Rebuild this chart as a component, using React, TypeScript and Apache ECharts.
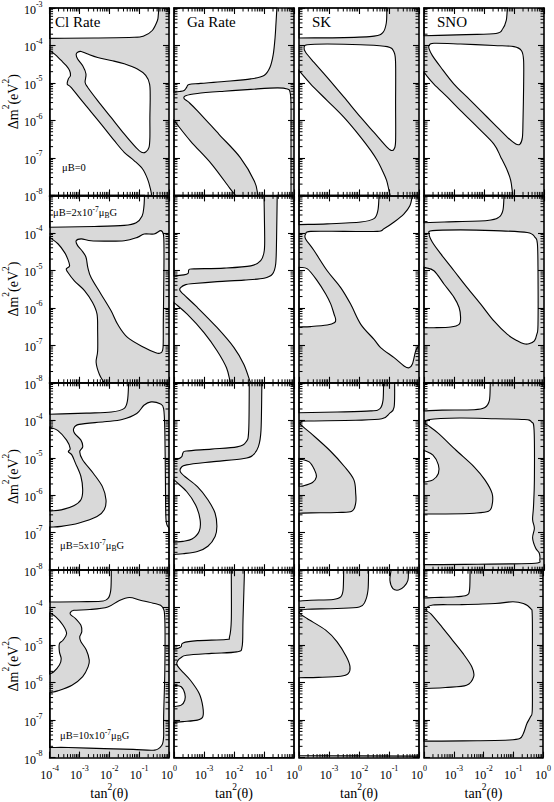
import React, { useEffect, useRef } from 'react';
import * as echarts from 'echarts';

type Pt = [number, number];

// ---------- text / axis data ----------
const detectorNames = ['Cl Rate', 'Ga Rate', 'SK', 'SNO'];
const muLabels = [
  '{n|μB=0}',
  '{n|μB=2x10}{s|-7}{n|μ}{u|B}{n|G}',
  '{n|μB=5x10}{s|-7}{n|μ}{u|B}{n|G}',
  '{n|μB=10x10}{s|-7}{n|μ}{u|B}{n|G}',
];
const xDecades = [-4, -3, -2, -1, 0]; // log10 tan^2(theta)
const yDecades = [-8, -7, -6, -5, -4, -3]; // log10 dm^2
const minorMultipliers = [2, 3, 4, 5, 6, 7, 8, 9];

// ---------- white (excluded) regions, [log10 tan^2, log10 dm^2] ----------
// row 0 : muB = 0
const cl0: Pt[][] = [
  [[-4, -3], [-0.34, -3], [-0.36, -3.2], [-0.39, -3.34], [-0.56, -3.6], [-0.83, -3.74], [-1.17, -3.78], [-2.5, -3.8], [-4, -3.81]],
  [[-4, -4.14], [-3.83, -4.23], [-3.61, -4.4], [-3.44, -4.54], [-3.33, -4.67], [-3.3, -4.8], [-3.37, -4.89], [-3.41, -5.03], [-3.28, -5.12], [-2.83, -5.56], [-2.28, -6.09], [-1.83, -6.54], [-1.5, -6.85], [-1.17, -7.07], [-0.89, -7.29], [-0.72, -7.56], [-0.62, -7.83], [-0.58, -8], [-4, -8]],
  [[-3.06, -4.18], [-2.94, -4.16], [-2.72, -4.23], [-2.39, -4.32], [-1.94, -4.4], [-1.5, -4.49], [-1.06, -4.63], [-0.78, -4.8], [-0.65, -5.03], [-0.63, -5.38], [-0.64, -5.92], [-0.64, -6.45], [-0.67, -6.72], [-0.78, -6.84], [-0.92, -6.85], [-1.11, -6.72], [-1.5, -6.36], [-1.94, -5.92], [-2.39, -5.47], [-2.72, -5.12], [-2.81, -4.98], [-2.78, -4.76], [-2.89, -4.54], [-3.06, -4.36], [-3.11, -4.24]],
];
const ga0: Pt[][] = [
  [[-4, -3], [-0.57, -3], [-0.6, -3.4], [-0.63, -3.78], [-0.69, -4.23], [-0.8, -4.58], [-1.0, -4.8], [-1.44, -4.89], [-2.33, -4.96], [-3.11, -5.01], [-3.5, -5.04], [-3.58, -5.12], [-3.66, -5.2], [-3.83, -5.23], [-4, -5.25]],
  [[-3.61, -5.34], [-3.22, -5.28], [-2.33, -5.22], [-1.44, -5.17], [-0.56, -5.13], [-0.22, -5.16], [-0.13, -5.25], [-0.1, -5.56], [-0.1, -6.5], [-0.1, -8], [-1.2, -8], [-1.32, -7.62], [-1.79, -6.99], [-2.5, -6.37], [-3.21, -5.75], [-3.5, -5.52], [-3.66, -5.42]],
  [[-4, -6.0], [-3.45, -6.55], [-2.74, -7.17], [-2.15, -7.8], [-1.95, -8], [-4, -8]],
];
const sk0: Pt[][] = [
  [[-4, -3], [-1.07, -3], [-1.09, -3.4], [-1.2, -3.65], [-1.5, -3.75], [-2.5, -3.79], [-4, -3.8]],
  [[-3.83, -4.05], [-3.72, -3.98], [-3.06, -3.96], [-1.94, -3.98], [-1.06, -4.03], [-0.83, -4.18], [-0.78, -4.49], [-0.78, -5.56], [-0.78, -6.54], [-0.83, -6.76], [-0.92, -6.8], [-1.06, -6.72], [-1.5, -6.32], [-1.94, -5.92], [-2.5, -5.38], [-3.06, -4.85], [-3.5, -4.45], [-3.78, -4.18]],
  [[-4, -4.67], [-3.61, -5.03], [-3.06, -5.47], [-2.5, -5.92], [-1.94, -6.45], [-1.61, -6.8], [-1.39, -7.07], [-1.22, -7.34], [-1.08, -7.6], [-1.0, -7.87], [-0.96, -8], [-4, -8]],
];
const sno0: Pt[][] = [
  [[-4, -3], [-1.22, -3], [-1.26, -3.34], [-1.38, -3.56], [-1.6, -3.68], [-2.6, -3.71], [-4, -3.74]],
  [[-3.83, -4.0], [-3.67, -3.94], [-2.78, -3.96], [-1.67, -4.0], [-1.0, -4.03], [-0.75, -4.14], [-0.68, -4.4], [-0.68, -5.12], [-0.7, -6.0], [-0.72, -6.45], [-0.8, -6.63], [-0.94, -6.63], [-1.22, -6.45], [-1.67, -6.09], [-2.11, -5.74], [-2.56, -5.38], [-3.0, -5.03], [-3.44, -4.58], [-3.72, -4.27], [-3.83, -4.09]],
  [[-4, -4.72], [-3.67, -5.03], [-3.22, -5.38], [-2.78, -5.74], [-2.22, -6.18], [-1.67, -6.63], [-1.44, -6.98], [-1.22, -7.34], [-1.11, -7.6], [-1.06, -7.87], [-1.04, -8], [-4, -8]],
];
// row 1 : muB = 2e-7
const cl2: Pt[][] = [
  [[-4, -3], [-0.82, -3], [-0.84, -3.3], [-0.9, -3.55], [-1.1, -3.73], [-1.5, -3.8], [-2.5, -3.83], [-4, -3.85]],
  [[-4, -4.12], [-3.72, -4.29], [-3.5, -4.52], [-3.39, -4.7], [-3.33, -4.88], [-3.44, -4.96], [-3.39, -5.05], [-3.17, -5.28], [-2.83, -5.54], [-2.56, -5.86], [-2.41, -6.17], [-2.39, -6.62], [-2.39, -7.15], [-2.44, -7.46], [-2.33, -7.78], [-2.17, -8], [-4, -8]],
  [[-3.11, -4.21], [-2.94, -4.16], [-2.61, -4.21], [-2.17, -4.22], [-1.5, -4.21], [-1.06, -4.12], [-0.83, -4.03], [-0.5, -4.03], [-0.28, -3.94], [-0.19, -4.03], [-0.17, -4.29], [-0.17, -5.01], [-0.19, -6.35], [-0.2, -7.06], [-0.28, -7.2], [-0.44, -7.2], [-0.83, -7.06], [-1.39, -6.79], [-1.72, -6.44], [-1.94, -6.08], [-2.28, -5.63], [-2.61, -5.19], [-2.72, -4.92], [-2.78, -4.65], [-2.92, -4.47], [-3.06, -4.34]],
];
const ga2: Pt[][] = [
  [[-4, -3], [-1.0, -3], [-0.98, -3.94], [-0.99, -4.47], [-1.11, -4.74], [-1.44, -4.88], [-2.33, -4.94], [-3.33, -4.96], [-3.5, -4.98], [-3.53, -5.08], [-3.67, -5.12], [-4, -5.15]],
  [[-0.56, -3], [-0.58, -4.12], [-0.61, -4.83], [-0.72, -5.1], [-1.0, -5.21], [-1.67, -5.26], [-2.56, -5.3], [-3.33, -5.35], [-3.61, -5.38], [-3.78, -5.46], [-3.8, -5.54], [-3.67, -5.65], [-3.22, -5.99], [-2.56, -6.53], [-2.0, -7.06], [-1.67, -7.51], [-1.45, -8], [0, -8], [0, -3]],
  [[-4, -5.86], [-3.56, -6.17], [-3.0, -6.66], [-2.56, -7.15], [-2.25, -7.6], [-2.12, -8], [-4, -8]],
];
const sk2: Pt[][] = [
  [[-4, -3], [-1.33, -3], [-1.37, -3.4], [-1.5, -3.62], [-1.94, -3.71], [-3.06, -3.76], [-4, -3.78]],
  [[-3.78, -4.03], [-3.61, -3.96], [-2.5, -3.96], [-1.39, -3.96], [-1.17, -3.89], [-0.83, -3.71], [-0.5, -3.49], [-0.3, -3.27], [-0.22, -3], [0, -3], [0, -7.0], [-0.11, -7.15], [-0.22, -7.5], [-0.33, -7.6], [-0.5, -7.55], [-0.83, -7.33], [-1.28, -7.06], [-1.5, -6.84], [-1.94, -6.44], [-2.28, -5.9], [-2.61, -5.46], [-3.06, -5.01], [-3.5, -4.47], [-3.78, -4.16]],
  [[-4, -4.92], [-3.72, -4.96], [-3.39, -5.28], [-3.11, -5.63], [-2.94, -5.9], [-2.83, -6.17], [-2.78, -6.3], [-2.81, -6.39], [-3.06, -6.46], [-3.61, -6.5], [-4, -6.51]],
];
const sno2: Pt[][] = [
  [[-4, -3], [-1.33, -3], [-1.37, -3.4], [-1.5, -3.58], [-1.89, -3.67], [-3.33, -3.71], [-4, -3.73]],
  [[-3.83, -4.03], [-3.72, -3.94], [-2.78, -3.92], [-1.67, -3.94], [-0.56, -3.99], [-0.3, -4.12], [-0.22, -4.29], [-0.2, -5.01], [-0.2, -6.44], [-0.24, -6.71], [-0.32, -6.88], [-0.5, -6.96], [-0.67, -6.96], [-0.89, -6.88], [-1.22, -6.71], [-1.67, -6.35], [-2.11, -5.9], [-2.56, -5.46], [-3.0, -5.01], [-3.44, -4.56], [-3.72, -4.25]],
  [[-4, -4.92], [-3.67, -5.01], [-3.33, -5.37], [-3.0, -5.72], [-2.83, -5.99], [-2.78, -6.26], [-2.83, -6.44], [-3.11, -6.51], [-3.67, -6.53], [-4, -6.53]],
];
// row 2 : muB = 5e-7
const cl5: Pt[][] = [
  [[-4, -3], [-1.35, -3], [-1.39, -3.47], [-1.51, -3.69], [-1.93, -3.78], [-2.77, -3.81], [-4, -3.84]],
  [[-4, -6.85], [-3.61, -6.83], [-3.01, -6.74], [-2.41, -6.57], [-2.17, -6.39], [-2.11, -6.12], [-2.23, -5.77], [-2.53, -5.42], [-2.89, -5.06], [-2.99, -4.84], [-2.89, -4.71], [-2.95, -4.53], [-3.16, -4.35], [-3.19, -4.22], [-3.01, -4.11], [-2.17, -4.04], [-1.57, -3.98], [-1.08, -3.82], [-0.84, -3.6], [-0.6, -3.51], [-0.3, -3.56], [-0.18, -3.69], [-0.14, -4.27], [-0.12, -5.59], [-0.1, -6.65], [0, -6.88], [0, -8], [-4, -8]],
  [[-4, -4.18], [-3.73, -4.27], [-3.43, -4.53], [-3.31, -4.75], [-3.37, -4.84], [-3.25, -4.93], [-3.13, -5.15], [-2.95, -5.5], [-2.89, -5.86], [-2.95, -6.12], [-3.19, -6.28], [-3.61, -6.39], [-4, -6.42]],
];
const ga5: Pt[][] = [
  [[-4, -3], [-1.49, -3], [-1.51, -4.27], [-1.6, -4.58], [-1.9, -4.71], [-2.75, -4.77], [-3.58, -4.82], [-3.7, -4.87], [-3.74, -4.97], [-3.88, -5.04], [-4, -5.06]],
  [[-1.07, -3], [-1.1, -4.27], [-1.19, -4.71], [-1.37, -4.93], [-1.67, -5.02], [-2.75, -5.11], [-3.58, -5.19], [-3.76, -5.26], [-3.79, -5.37], [-3.64, -5.5], [-3.22, -5.77], [-2.87, -6.12], [-2.63, -6.48], [-2.57, -6.83], [-2.63, -7.1], [-2.87, -7.36], [-3.22, -7.5], [-3.7, -7.56], [-4, -7.58], [-4, -8], [0, -8], [0, -3]],
  [[-4, -5.59], [-3.58, -5.9], [-3.28, -6.26], [-3.13, -6.65], [-3.16, -6.96], [-3.4, -7.17], [-3.7, -7.23], [-4, -7.25]],
];
const sk5: Pt[][] = [
  [[-4, -3], [-1.18, -3], [-1.2, -3.47], [-1.3, -3.69], [-1.61, -3.75], [-2.73, -3.78], [-4, -3.8]],
  [[-0.81, -3], [-0.83, -3.65], [-0.99, -3.82], [-1.24, -3.96], [-2.11, -4.0], [-3.73, -4.02], [-3.91, -4.04], [-3.95, -4.11], [-3.6, -4.35], [-2.98, -4.8], [-2.48, -5.24], [-2.17, -5.59], [-2.11, -5.95], [-2.11, -6.21], [-2.24, -6.43], [-2.73, -6.46], [-3.6, -6.47], [-4, -6.48], [-4, -8], [0, -8], [0, -3]],
  [[-4, -5.02], [-3.66, -5.11], [-3.48, -5.33], [-3.42, -5.51], [-3.55, -5.66], [-3.85, -5.75], [-4, -5.76]],
];
const sno5: Pt[][] = [
  [[-4, -3], [-1.79, -3], [-1.82, -3.47], [-1.97, -3.66], [-2.33, -3.72], [-3.4, -3.73], [-4, -3.75]],
  [[-3.96, -4.09], [-3.82, -3.98], [-2.81, -3.94], [-1.61, -3.96], [-0.66, -3.98], [-0.42, -4.04], [-0.33, -4.27], [-0.32, -5.59], [-0.35, -6.3], [-0.38, -6.65], [-0.32, -6.88], [-0.38, -7.14], [-0.28, -7.41], [-0.16, -7.54], [-0.14, -7.72], [-0.22, -7.81], [-1.01, -7.83], [-2.21, -7.84], [-3.4, -7.85], [-4, -7.85], [-4, -6.5], [-3.28, -6.5], [-2.33, -6.48], [-1.85, -6.43], [-1.73, -6.26], [-1.73, -5.95], [-1.97, -5.59], [-2.33, -5.24], [-2.93, -4.8], [-3.52, -4.35], [-3.88, -4.13]],
  [[-4, -4.8], [-3.7, -4.93], [-3.52, -5.19], [-3.52, -5.42], [-3.7, -5.59], [-3.94, -5.64], [-4, -5.65]],
];
// row 3 : muB = 10e-7
const cl10: Pt[][] = [
  [[-4, -3], [-1.93, -3], [-1.95, -3.53], [-2.05, -3.76], [-2.29, -3.83], [-3.01, -3.84], [-4, -3.85]],
  [[-3.31, -4.14], [-3.19, -4.07], [-2.65, -4.05], [-2.05, -3.98], [-1.69, -3.82], [-1.33, -3.73], [-0.96, -3.8], [-0.48, -3.89], [-0.22, -3.98], [-0.14, -4.33], [-0.14, -5.67], [-0.18, -6.91], [-0.18, -7.44], [-0.24, -7.67], [-0.48, -7.8], [-1.2, -7.78], [-2.17, -7.76], [-3.37, -7.73], [-4, -7.73], [-4, -6.27], [-3.73, -6.22], [-3.25, -6.07], [-2.89, -5.84], [-2.71, -5.58], [-2.67, -5.4], [-2.77, -5.13], [-2.95, -4.91], [-2.99, -4.78], [-2.92, -4.64], [-2.95, -4.47], [-3.13, -4.29], [-3.28, -4.2]],
  [[-4, -4.14], [-3.8, -4.24], [-3.55, -4.47], [-3.43, -4.69], [-3.55, -4.87], [-3.67, -4.96], [-3.67, -5.18], [-3.61, -5.36], [-3.67, -5.53], [-3.86, -5.71], [-4, -5.77]],
];
const ga10: Pt[][] = [
  [[-4, -3], [-2.09, -3], [-2.09, -4.33], [-2.15, -4.78], [-2.27, -4.85], [-3.22, -4.88], [-3.7, -4.94], [-3.76, -5.04], [-3.88, -5.09], [-4, -5.11]],
  [[-1.65, -3], [-1.7, -4.33], [-1.73, -5.04], [-1.91, -5.18], [-2.75, -5.22], [-3.58, -5.27], [-3.76, -5.33], [-3.88, -5.42], [-3.9, -5.53], [-3.76, -5.67], [-3.46, -5.93], [-3.16, -6.29], [-3.04, -6.64], [-3.04, -6.91], [-3.22, -7.0], [-3.7, -7.04], [-4, -7.06], [-4, -8], [0, -8], [0, -3]],
  [[-4, -6.07], [-3.76, -6.11], [-3.64, -6.29], [-3.64, -6.47], [-3.76, -6.6], [-4, -6.64]],
];
const sk10: Pt[][] = [
  [[-4, -3], [-2.51, -3], [-2.53, -3.53], [-2.61, -3.71], [-2.86, -3.78], [-3.6, -3.8], [-4, -3.82]],
  [[-1.68, -3], [-1.7, -3.53], [-1.8, -3.84], [-1.99, -3.98], [-2.73, -4.02], [-3.73, -4.04], [-3.91, -4.07], [-3.98, -4.14], [-3.73, -4.29], [-3.11, -4.6], [-2.73, -4.91], [-2.42, -5.31], [-2.3, -5.58], [-2.36, -5.76], [-2.61, -5.83], [-3.35, -5.86], [-4, -5.87], [-4, -7.95], [0, -7.96], [0, -3], [-0.35, -3], [-0.37, -3.27], [-0.5, -3.44], [-0.68, -3.53], [-0.87, -3.49], [-0.97, -3.27], [-0.93, -3]],
];
const sno10: Pt[][] = [
  [[-4, -3], [-2.45, -3], [-2.47, -3.53], [-2.57, -3.67], [-2.93, -3.71], [-3.64, -3.73], [-4, -3.74]],
  [[-3.94, -4.05], [-3.7, -3.93], [-2.81, -3.92], [-1.61, -3.89], [-1.01, -3.84], [-0.66, -3.89], [-0.42, -4.02], [-0.36, -4.24], [-0.36, -5.67], [-0.36, -6.73], [-0.42, -6.91], [-0.54, -7.09], [-0.66, -7.36], [-0.78, -7.49], [-1.13, -7.53], [-2.21, -7.55], [-3.4, -7.56], [-4, -7.56], [-4, -6.16], [-3.28, -6.13], [-2.57, -6.07], [-2.33, -5.84], [-2.39, -5.58], [-2.69, -5.22], [-3.04, -4.87], [-3.4, -4.51], [-3.76, -4.17]],
];

const panelShapes: Pt[][][][] = [
  [cl0, ga0, sk0, sno0],
  [cl2, ga2, sk2, sno2],
  [cl5, ga5, sk5, sno5],
  [cl10, ga10, sk10, sno10],
];

// ---------- layout / style ----------
const SERIF = '"Liberation Serif", "DejaVu Serif", serif';
const GRAY = '#d9d9d9';
const COL_X = [49, 174, 299, 424];
const ROW_Y = [8, 195.4, 382.8, 570.2];
const PANEL_W = 120;
const PANEL_H = 187.4;
const XMIN = xDecades[0], XMAX = xDecades[xDecades.length - 1];
const YMIN = yDecades[0], YMAX = yDecades[yDecades.length - 1];

const tickRich = {
  b: { fontFamily: SERIF, fontWeight: 'normal', fontSize: 12, color: '#000', lineHeight: 16, verticalAlign: 'bottom' },
  s: { fontFamily: SERIF, fontWeight: 'normal', fontSize: 8, color: '#000', lineHeight: 8, verticalAlign: 'top' },
};
const nameRich = {
  b: { fontFamily: SERIF, fontWeight: 'normal', fontSize: 14, color: '#000', lineHeight: 19, verticalAlign: 'bottom' },
  s: { fontFamily: SERIF, fontWeight: 'normal', fontSize: 9.5, color: '#000', lineHeight: 9, verticalAlign: 'top' },
};
const muRich = {
  n: { fontFamily: SERIF, fontSize: 10.5, fill: '#000', lineHeight: 14, verticalAlign: 'middle' },
  s: { fontFamily: SERIF, fontSize: 7.5, fill: '#000', lineHeight: 7, verticalAlign: 'top' },
  u: { fontFamily: SERIF, fontSize: 7.5, fill: '#000', lineHeight: 7, verticalAlign: 'bottom' },
};

function isEdgeSeg(a: Pt, b: Pt): boolean {
  return (a[0] === XMIN && b[0] === XMIN) || (a[0] === XMAX && b[0] === XMAX) ||
    (a[1] === YMAX && b[1] === YMAX) || (a[1] === YMIN && b[1] === YMIN);
}

function contourPath(poly: Pt[], toPx: (p: Pt) => number[]): string {
  const n = poly.length;
  const P = poly.map(toPx);
  const edge = (i: number) => isEdgeSeg(poly[((i % n) + n) % n], poly[(((i + 1) % n) + n) % n]);
  const at = (i: number) => P[((i % n) + n) % n];
  let d = `M${P[0][0].toFixed(2)},${P[0][1].toFixed(2)}`;
  for (let i = 0; i < n; i++) {
    const a = at(i), b = at(i + 1);
    if (edge(i)) { d += `L${b[0].toFixed(2)},${b[1].toFixed(2)}`; continue; }
    const prev = at(i - 1), next = at(i + 2);
    const ta = edge(i - 1) ? [b[0] - a[0], b[1] - a[1]] : [(b[0] - prev[0]) / 2, (b[1] - prev[1]) / 2];
    const tb = edge(i + 1) ? [b[0] - a[0], b[1] - a[1]] : [(next[0] - a[0]) / 2, (next[1] - a[1]) / 2];
    const c1 = [a[0] + ta[0] / 3, a[1] + ta[1] / 3];
    const c2 = [b[0] - tb[0] / 3, b[1] - tb[1] / 3];
    d += `C${c1[0].toFixed(2)},${c1[1].toFixed(2)} ${c2[0].toFixed(2)},${c2[1].toFixed(2)} ${b[0].toFixed(2)},${b[1].toFixed(2)}`;
  }
  return d + 'Z';
}

const minorX: number[] = [];
xDecades.slice(0, -1).forEach((n) => minorMultipliers.forEach((k) => minorX.push(n + Math.log10(k))));
const minorY: number[] = [];
yDecades.slice(0, -1).forEach((n) => minorMultipliers.forEach((k) => minorY.push(n + Math.log10(k))));

function buildOption() {
  const grid: any[] = [], xAxis: any[] = [], yAxis: any[] = [], series: any[] = [], graphic: any[] = [];
  const axisLine = { show: true, onZero: false, lineStyle: { color: '#000', width: 1.6 } };
  const axisTick = { show: true, inside: true, length: 6, lineStyle: { color: '#000', width: 1.1 } };
  for (let r = 0; r < 4; r++) {
    for (let c = 0; c < 4; c++) {
      const g = r * 4 + c;
      grid.push({ left: COL_X[c], top: ROW_Y[r], width: PANEL_W, height: PANEL_H });
      xAxis.push({
        gridIndex: g, type: 'value', min: XMIN, max: XMAX, interval: 1, position: 'bottom', z: 5,
        axisLine, axisTick, splitLine: { show: false },
        axisLabel: r === 3 ? {
          show: true, margin: 7,
          formatter: (v: number) => (c > 0 && v === XMIN ? '' : `{b|10}{s|${v}}`),
          rich: tickRich,
        } : { show: false },
        name: r === 3 ? '{b|tan}{s|2}{b|(θ)}' : '',
        nameLocation: 'middle', nameGap: 23,
        nameTextStyle: { fontWeight: 'normal', rich: nameRich },
      });
      xAxis.push({
        gridIndex: g, type: 'value', min: XMIN, max: XMAX, interval: 1, position: 'top', z: 5,
        axisLine, axisTick, splitLine: { show: false }, axisLabel: { show: false },
      });
      yAxis.push({
        gridIndex: g, type: 'value', min: YMIN, max: YMAX, interval: 1, position: 'left', z: 5,
        axisLine, axisTick, splitLine: { show: false },
        axisLabel: c === 0 ? {
          show: true, margin: 7,
          formatter: (v: number) => (r > 0 && v === YMAX ? '' : `{b|10}{s|${v}}`),
          rich: tickRich,
        } : { show: false },
        name: c === 0 ? '{b|Δm}{s|2}{b|(eV}{s|2}{b|)}' : '',
        nameLocation: 'middle', nameGap: 17, nameRotate: 90,
        nameTextStyle: { fontWeight: 'normal', rich: nameRich },
      });
      yAxis.push({
        gridIndex: g, type: 'value', min: YMIN, max: YMAX, interval: 1, position: 'right', z: 5,
        axisLine, axisTick, splitLine: { show: false }, axisLabel: { show: false },
      });
      const shapes = panelShapes[r][c];
      series.push({
        type: 'custom', xAxisIndex: 2 * g, yAxisIndex: 2 * g, silent: true, z: 2,
        data: [{ value: [-2, -5.5] }],
        renderItem: (_p: any, api: any) => {
          const toPx = (p: Pt) => api.coord(p);
          const corners = ([[XMIN, YMIN], [XMAX, YMIN], [XMAX, YMAX], [XMIN, YMAX]] as Pt[]).map(toPx);
          return {
            type: 'group',
            children: [
              { type: 'polygon', shape: { points: corners }, style: { fill: GRAY, stroke: null } },
              ...shapes.map((poly) => ({
                type: 'path',
                shape: { pathData: contourPath(poly, toPx) },
                style: { fill: '#fff', stroke: '#000', lineWidth: 1.1 },
              })),
            ],
          };
        },
      });
      const tickData = [
        ...minorX.map((v) => ({ value: [v, -5.5, 0] })),
        ...minorY.map((v) => ({ value: [-2, v, 1] })),
      ];
      series.push({
        type: 'custom', xAxisIndex: 2 * g, yAxisIndex: 2 * g, silent: true, z: 6,
        data: tickData,
        renderItem: (_p: any, api: any) => {
          const flag = api.value(2);
          const st = { stroke: '#000', lineWidth: 1 };
          const L = 3.5;
          if (flag === 0) {
            const v = api.value(0);
            const b = api.coord([v, YMIN]);
            const t = api.coord([v, YMAX]);
            return {
              type: 'group', children: [
                { type: 'line', shape: { x1: b[0], y1: b[1], x2: b[0], y2: b[1] - L }, style: st },
                { type: 'line', shape: { x1: t[0], y1: t[1], x2: t[0], y2: t[1] + L }, style: st },
              ],
            };
          }
          const v = api.value(1);
          const l = api.coord([XMIN, v]);
          const rr = api.coord([XMAX, v]);
          return {
            type: 'group', children: [
              { type: 'line', shape: { x1: l[0], y1: l[1], x2: l[0] + L, y2: l[1] }, style: st },
              { type: 'line', shape: { x1: rr[0], y1: rr[1], x2: rr[0] - L, y2: rr[1] }, style: st },
            ],
          };
        },
      });
    }
  }
  detectorNames.forEach((name, c) => {
    graphic.push({
      type: 'text', x: COL_X[c] + (c === 0 ? 6 : 13), y: 22, z: 20, silent: true,
      style: { text: name, fontFamily: SERIF, fontSize: 15, fill: '#000', verticalAlign: 'middle', align: 'left' },
    });
  });
  const muPos = [[62, 167], [53, 212], [60, 545], [60, 735]];
  muLabels.forEach((txt, r) => {
    graphic.push({
      type: 'text', x: muPos[r][0], y: muPos[r][1], z: 20, silent: true,
      style: { text: txt, rich: muRich, fontFamily: SERIF, fontSize: 10.5, fill: '#000', verticalAlign: 'middle', align: 'left' },
    });
  });
  return { animation: false, backgroundColor: '#fff', grid, xAxis, yAxis, series, graphic };
}

export default function App() {
  const ref = useRef<HTMLDivElement>(null);
  useEffect(() => {
    if (!ref.current) return;
    const chart = echarts.init(ref.current, undefined, { renderer: 'svg' });
    chart.setOption(buildOption() as any);
    return () => chart.dispose();
  }, []);
  return <div ref={ref} style={{ position: 'absolute', left: 0, top: 0, width: 554, height: 802 }} />;
}
